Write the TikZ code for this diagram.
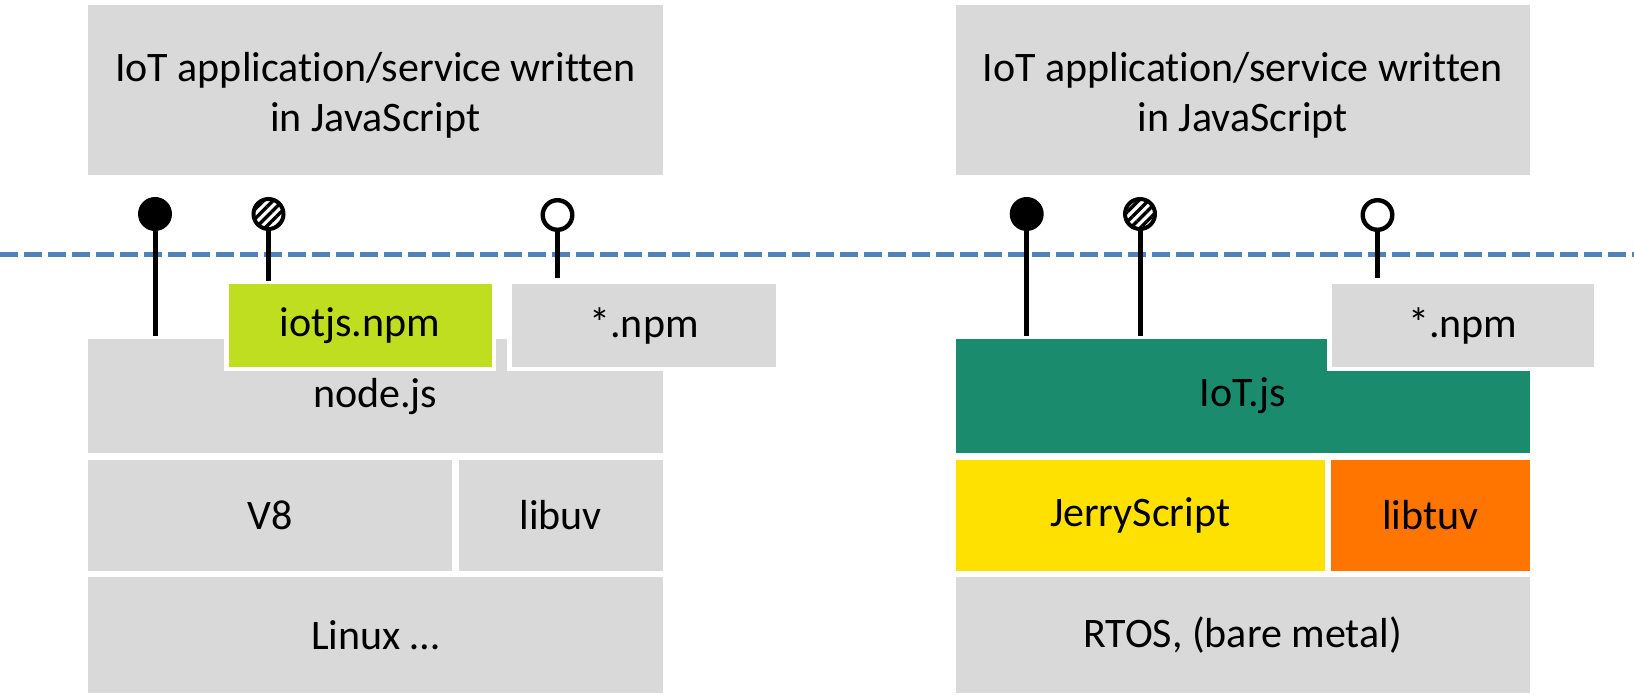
\documentclass[tikz,border=0pt]{standalone}
\usepackage{fontspec}
\setmainfont{Carlito}[Ligatures={NoCommon,NoContextual}, RawFeature={-liga;-clig;-dlig}]
\usetikzlibrary{patterns.meta}
\definecolor{boxgray}{HTML}{D9D9D9}
\definecolor{limebox}{HTML}{BFDE1F}
\definecolor{greenbox}{HTML}{1B8B6E}
\definecolor{yellowbox}{HTML}{FFE100}
\definecolor{orangebox}{HTML}{FF7500}
\definecolor{lineblue}{HTML}{4F81BD}
\newcommand\blk[7]{\node[#6, anchor=north west, minimum width={(#4-(#2))*0.5pt}, minimum height={(#5-(#3))*0.5pt}] (#1) at (#2,#3) {#7};}
\newcommand\toplift{\rule{0pt}{20pt}}
\tikzset{
  layer/.style={fill=boxgray},
  halo/.style={preaction={draw=white, line width=4.5pt}},
  sep/.style={draw=lineblue, line width=2.5pt, dash pattern=on 9pt off 3pt},
  stem/.style={draw=black, line width=2.5pt},
  pinfull/.style={circle, fill=black, minimum size=17pt},
  pinhatch/.style={circle, draw=black, line width=2pt, minimum size=15pt,
    pattern={Lines[angle=45, distance=3.4pt, line width=1.7pt]}, pattern color=black},
  pinopen/.style={circle, draw=black, line width=2.2pt, fill=white, minimum size=14.8pt},
}
\begin{document}
\begin{tikzpicture}[x=0.5pt, y=-0.5pt,
  every node/.style={font=\fontsize{21}{25}\selectfont, inner sep=0pt, outer sep=0pt, text=black}]
\useasboundingbox (0,0) rectangle (1634,695);
% left stack
\blk{lapp}{87.5}{5}{663}{175}{layer, align=center}{\toplift IoT application/service written\\in JavaScript}
\blk{lnode}{87.5}{339}{663}{453.3}{layer}{node.js}
\blk{lv8}{87.5}{459.5}{452.3}{571}{layer}{V8}
\blk{llibuv}{458.5}{459.5}{663}{571}{layer}{libuv}
\blk{llinux}{87.5}{577}{663}{693}{layer}{Linux …}
\blk{liotjs}{228.5}{284.5}{491.5}{367}{fill=limebox, halo}{iotjs.npm}
\blk{lnpm}{511.7}{284.5}{776.4}{367}{layer, halo}{*.npm}
% right stack
\blk{rapp}{955.6}{5}{1529.8}{175}{layer, align=center}{\toplift IoT application/service written\\in JavaScript}
\blk{riotjs}{955.6}{339}{1529.8}{453.3}{fill=greenbox}{IoT.js}
\blk{rjerry}{955.6}{459.5}{1324.5}{571}{fill=yellowbox}{JerryScript}
\blk{rlibtuv}{1330.8}{459.5}{1529.8}{571}{fill=orangebox}{libtuv}
\blk{rrtos}{955.6}{577}{1529.8}{693}{layer}{RTOS, (bare metal)}
\blk{rnpm}{1331.5}{284.5}{1594.4}{366.8}{layer, halo}{*.npm}
% separator
\coordinate (sl) at (0,255);
\coordinate (sr) at (1634,255);
\draw[sep] (sl) -- (sr);
% pins left
\node[pinfull] (lp1) at (155,214) {};
\node[pinhatch] (lp2) at (268.5,214) {};
\node[pinopen] (lp3) at (557.5,215) {};
\draw[stem] (lp1.south) -- ([yshift=1.5pt]lp1.south |- lnode.north);
\draw[stem] (lp2.south) -- ([yshift=1.75pt]lp2.south |- liotjs.north);
\draw[stem] (lp3.south) -- ([yshift=3.2pt]lp3.south |- lnpm.north);
% pins right
\node[pinfull] (rp1) at (1026.7,214) {};
\node[pinhatch] (rp2) at (1140,214) {};
\node[pinopen] (rp3) at (1377.5,215) {};
\draw[stem] (rp1.south) -- ([yshift=1.5pt]rp1.south |- riotjs.north);
\draw[stem] (rp2.south) -- ([yshift=1.5pt]rp2.south |- riotjs.north);
\draw[stem] (rp3.south) -- ([yshift=3.2pt]rp3.south |- rnpm.north);
\end{tikzpicture}
\end{document}
